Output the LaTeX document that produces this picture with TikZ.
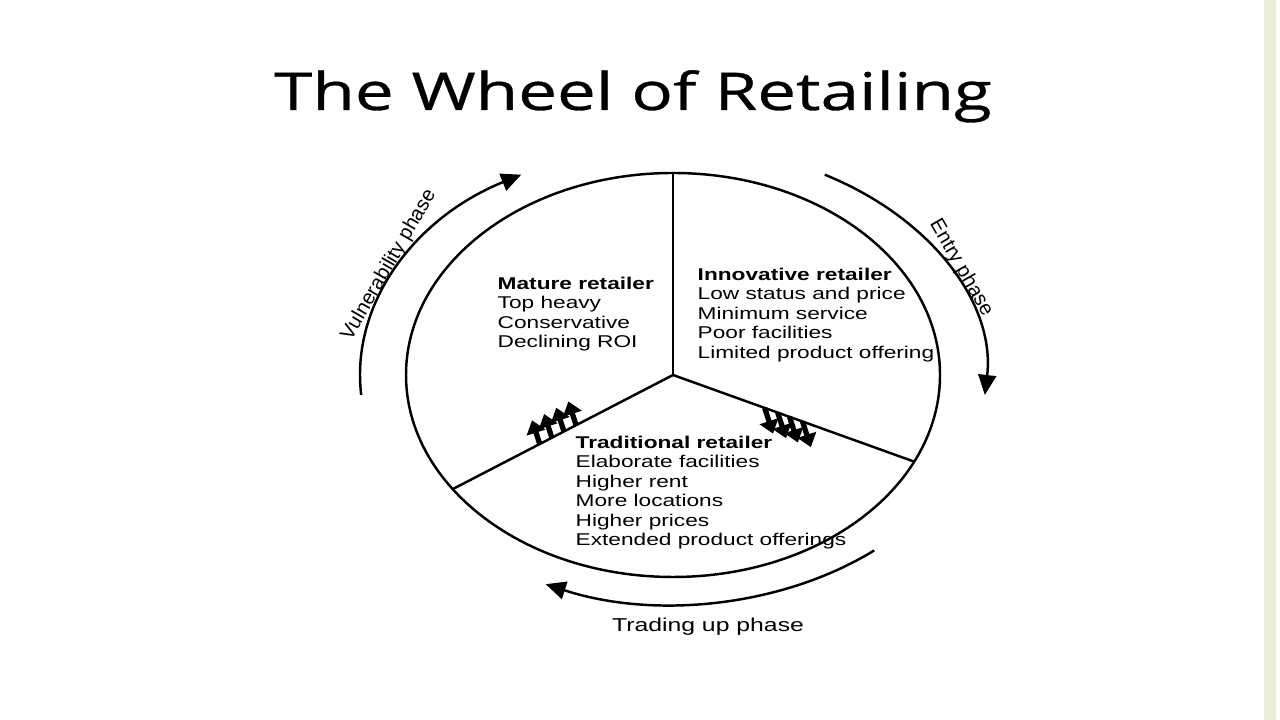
\documentclass[tikz,border=0pt]{standalone}
\usepackage{fontspec}
\usepackage{tikz}
\usetikzlibrary{arrows.meta, positioning, calc}
\newfontfamily\bodyfont{Liberation Sans}[FakeStretch=1.33]
\newfontfamily\phasefont{Liberation Sans}
\newfontfamily\titlefont{Open Sans}[FakeStretch=1.33, FakeBold=0.6]
\definecolor{edgegreen}{RGB}{234,237,216}
\tikzset{
  wheel/.style={line width=0.7pt},
  phasearrow/.style={line width=0.7pt, -{Triangle[length=2mm,width=1.8mm]}},
  push/.style={line width=1.5pt, -{Triangle[length=1.3mm,width=1.9mm]}},
  txt/.style={font=\bodyfont\fontsize{4.85}{5.55}\selectfont, align=left, inner sep=0pt},
  phase/.style={font=\phasefont\fontsize{5.75}{6.5}\selectfont, inner sep=0pt}
}
\begin{document}
\begin{tikzpicture}
\useasboundingbox (0,0) rectangle (12.8,7.2);
\fill[white] (0,0) rectangle (12.8,7.2);
\fill[edgegreen] (12.64,0) rectangle (12.76,7.2);
% title
\node[font=\titlefont\fontsize{14.8}{16}\selectfont, anchor=base, inner sep=0pt] (title) at (6.33,6.10) {The Wheel of Retailing};
% wheel
\coordinate (c) at (6.73,3.45);
\coordinate (top) at ($(c)+(90:2.67 and 2.02)$);
\coordinate (ll) at ($(c)+(214.4:2.67 and 2.02)$);
\coordinate (lr) at ($(c)+(334.6:2.67 and 2.02)$);
\draw[wheel] (c) ellipse [x radius=2.67, y radius=2.02];
\draw[wheel] (c) -- (top);
\draw[wheel] (c) -- (ll);
\draw[wheel] (c) -- (lr);
% phases
\coordinate (vstart) at ($(c)+(185:3.13 and 2.29)$);
\coordinate (estart) at ($(c)+(61:3.13 and 2.29)$);
\coordinate (tstart) at ($(c)+(-50:3.13 and 2.29)$);
\draw[phasearrow] (vstart) arc[start angle=185, end angle=119, x radius=3.13, y radius=2.29];
\draw[phasearrow] (estart) arc[start angle=61, end angle=-5, x radius=3.13, y radius=2.29];
\draw[phasearrow] (tstart) arc[start angle=-50, end angle=-114, x radius=3.13, y radius=2.29];
\node[phase, rotate=60] (vul) at (3.89,4.55) {Vulnerability phase};
\node[phase, rotate=-60] (entry) at (9.61,4.52) {Entry phase};
\node[txt, font=\bodyfont\fontsize{5.3}{6}\selectfont, anchor=base] (trade) at (7.08,0.88) {Trading up phase};
% retailers
\node[txt, anchor=north west] (mature) at (4.97,4.44) {\textbf{Mature retailer}\\Top heavy\\Conservative\\Declining ROI};
\node[txt, anchor=north west] (innov) at (6.97,4.53) {\textbf{Innovative retailer}\\Low status and price\\Minimum service\\Poor facilities\\Limited product offering};
\node[txt, anchor=north west] (trad) at (5.75,2.85) {\textbf{Traditional retailer}\\Elaborate facilities\\Higher rent\\More locations\\Higher prices\\Extended product offerings};
% pushes
\foreach \t in {0.44,0.495,0.55,0.605}
  \draw[push] ($(c)!\t!(ll)$) -- ++(108:0.25);
\foreach \t in {0.38,0.434,0.483,0.537}
  \draw[push] ($(c)!\t!(lr)$) -- ++(-72:0.27);
\end{tikzpicture}
\end{document}
